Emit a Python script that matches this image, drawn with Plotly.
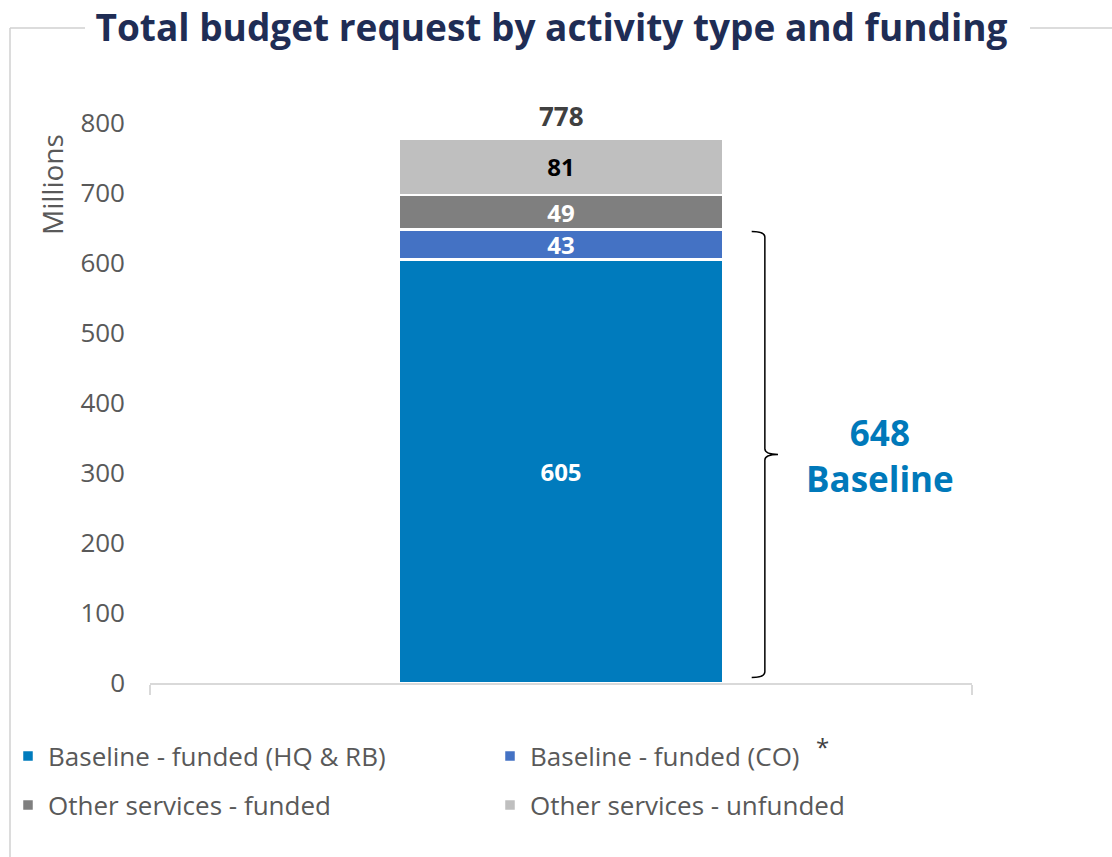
import plotly.graph_objects as go

# Budget components (millions), stacked bottom to top
categories = ["Baseline - funded (HQ & RB)", "Baseline - funded (CO)",
              "Other services - funded", "Other services - unfunded"]
values = [605, 43, 49, 81]
colors = ["#007BBD", "#4472C4", "#7F7F7F", "#BFBFBF"]
label_colors = ["#FFFFFF", "#FFFFFF", "#FFFFFF", "#000000"]
baseline_parts = 2  # first two components make up the baseline

y_ticks = [0, 100, 200, 300, 400, 500, 600, 700, 800]

W, H = 1112, 857
ML, MR, MT, MB = 150, 140, 123, 174
PW, PH = W - ML - MR, H - MT - MB


def px(xpix):
    return (xpix - ML) / PW


def py(ypix):
    return (H - MB - ypix) / PH


FONT = "Open Sans"
fig = go.Figure()

# one legend box per entry, laid out as a 2x2 grid below the plot
legend_ids = ["legend", "legend2", "legend3", "legend4"]
legend_pos = [(8, 756), (490, 756), (8, 805), (490, 805)]

for name, v, c, tc, lg in zip(categories, values, colors, label_colors, legend_ids):
    fig.add_trace(go.Bar(
        x=[0], y=[v], name=name, width=0.395,
        marker=dict(color=c, line=dict(color="white", width=2.5)),
        text=[f"<b>{v}</b>"], textposition="inside", insidetextanchor="middle",
        constraintext="none", textangle=0,
        textfont=dict(family=FONT, size=24, color=tc),
        legend=lg, hoverinfo="skip",
    ))

total = sum(values)
baseline = sum(values[:baseline_parts])

annotations = [
    dict(x=0, y=total, xref="x", yref="y", text=f"<b>{total}</b>", showarrow=False,
         yanchor="bottom", yshift=2, font=dict(family=FONT, size=26, color="#404040")),
    dict(x=px(880), y=baseline / 2, xref="paper", yref="y", xanchor="center",
         yanchor="middle", yshift=1, text=f"<b>{baseline}<br>Baseline</b>", showarrow=False,
         font=dict(family=FONT, size=35, color="#0079BA")),
    dict(x=px(52), y=py(185), xref="paper", yref="paper", text="Millions",
         xanchor="center", yanchor="middle",
         textangle=-90, showarrow=False, font=dict(family=FONT, size=28, color="#595959")),
    dict(x=px(822), y=py(746), xref="paper", yref="paper", text="*",
         xanchor="center", yanchor="middle",
         showarrow=False, font=dict(family=FONT, size=24, color="#404040")),
]

# Curly brace spanning the baseline portion of the bar
bx0, bx1, bx2 = 0.232, 0.248, 0.264
ytop, ybot = baseline - 3, 8
ymid = (ytop + ybot) / 2
d = 8
brace = (f"M {bx0},{ytop} Q {bx1},{ytop} {bx1},{ytop - d} "
         f"L {bx1},{ymid + d} Q {bx1},{ymid} {bx2},{ymid} "
         f"Q {bx1},{ymid} {bx1},{ymid - d} "
         f"L {bx1},{ybot + d} Q {bx1},{ybot} {bx0},{ybot}")

frame = dict(color="#D0D0D0", width=1.5)
shapes = [
    dict(type="path", path=brace, xref="x", yref="y", line=dict(color="black", width=1.5)),
    # frame around the chart, interrupted by the title
    dict(type="line", xref="paper", yref="paper", x0=px(10), x1=px(10), y0=py(28), y1=py(900),
         line=frame),
    dict(type="line", xref="paper", yref="paper", x0=px(10), x1=px(85), y0=py(28), y1=py(28),
         line=frame),
    dict(type="line", xref="paper", yref="paper", x0=px(1030), x1=px(1120), y0=py(28), y1=py(28),
         line=frame),
]

legend_common = dict(orientation="h", xref="container", yref="container",
                     xanchor="left", yanchor="middle",
                     font=dict(family=FONT, size=26, color="#595959"),
                     bgcolor="rgba(0,0,0,0)")
legends = {lg: dict(legend_common, x=lx / W, y=1 - ly / H)
           for lg, (lx, ly) in zip(legend_ids, legend_pos)}

fig.update_layout(
    width=W, height=H,
    margin=dict(l=ML, r=MR, t=MT, b=MB, autoexpand=False),
    paper_bgcolor="white", plot_bgcolor="white",
    barmode="stack",
    title=dict(text="<b>Total budget request by activity type and funding</b>",
               x=551.5 / W, xanchor="center", y=1 - 28 / H, yanchor="middle",
               font=dict(family=FONT, size=37, color="#1F2D55")),
    xaxis=dict(range=[-0.5, 0.5], tickvals=[-0.5, 0.5], ticktext=["", ""],
               ticks="outside", ticklen=10, tickwidth=2, tickcolor="#D9D9D9",
               showline=True, linecolor="#D9D9D9", linewidth=2, automargin=False,
               showgrid=False, zeroline=False, fixedrange=True),
    yaxis=dict(range=[0, 800], tickvals=y_ticks, showgrid=False, zeroline=False,
               showline=False, ticklabelstandoff=24, automargin=False,
               tickfont=dict(family=FONT, size=26, color="#595959")),
    showlegend=True,
    annotations=annotations,
    shapes=shapes,
    **legends,
)

fig.write_html("out.html")
